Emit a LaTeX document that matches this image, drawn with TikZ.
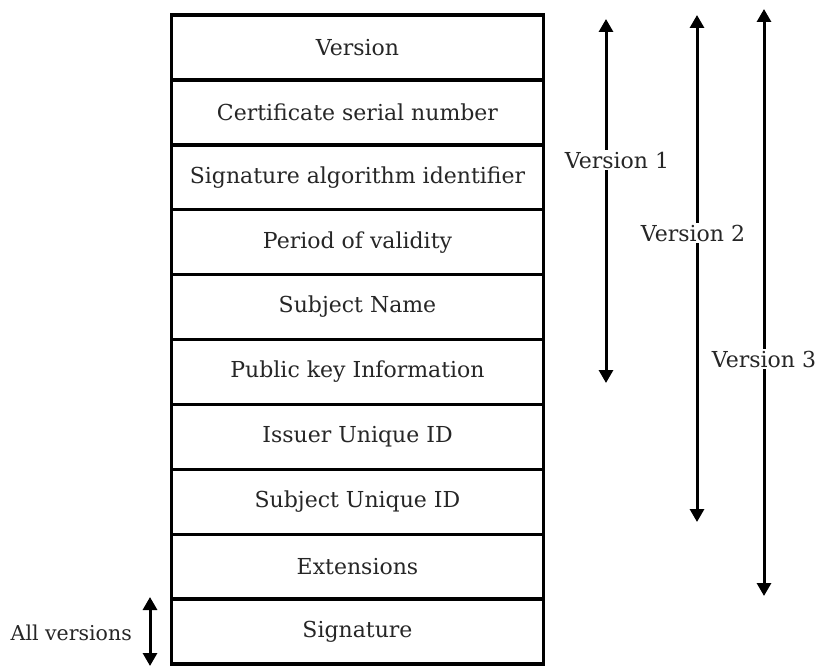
\documentclass[tikz,border=0pt]{standalone}
\usepackage{fontspec}
\setmainfont{DejaVu Serif}
\usetikzlibrary{arrows.meta}
\begin{document}
\begin{tikzpicture}[x=1pt,y=-1pt,
  field/.style={draw=black,line width=3.3pt,minimum width=372pt,minimum height=64.8pt,inner sep=0pt,font=\fontsize{22}{26}\selectfont,text=black!85},
  span/.style={line width=3pt,{Triangle[width=14pt,length=13pt]}-{Triangle[width=14pt,length=13pt]}},
  lbl/.style={fill=white,inner sep=1.5pt,font=\fontsize{22}{26}\selectfont,text=black!85}]
\useasboundingbox (0,0) rectangle (816,666);
\foreach \t [count=\i] in {Version,Certificate serial number,Signature algorithm identifier,Period of validity,Subject Name,Public key Information,Issuer Unique ID,Subject Unique ID,Extensions,Signature}
  \node[field] (r\i) at (357.5,{15+64.9*(\i-0.5)}) {\t};
\coordinate (v1t) at (606,19);
\coordinate (v1b) at (606,383);
\coordinate (v2t) at (697,15);
\coordinate (v2b) at (697,522);
\coordinate (v3t) at (764,9);
\coordinate (v3b) at (764,596);
\coordinate (avt) at (150,597);
\coordinate (avb) at (150,666);
\draw[span] (v1t) -- (v1b);
\draw[span] (v2t) -- (v2b);
\draw[span] (v3t) -- (v3b);
\draw[span] (avt) -- (avb);
\node[lbl] (l1) at (617,160) {Version 1};
\node[lbl] (l2) at (693,233) {Version 2};
\node[lbl] (l3) at (764,359) {Version 3};
\node[font=\fontsize{20.5}{24}\selectfont,text=black!85,anchor=east,inner sep=1pt] (l4) at (133,633) {All versions};
\end{tikzpicture}
\end{document}
